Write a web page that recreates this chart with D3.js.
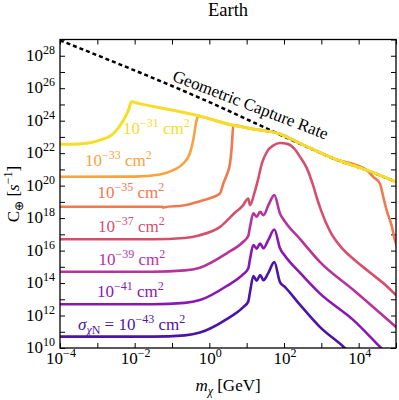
<!DOCTYPE html>
<html>
<head>
<meta charset="utf-8">
<script src="https://cdn.jsdelivr.net/npm/d3@7"></script>
<style>
  body { margin: 0; background: #fff; }
  svg { display: block; font-family: "Liberation Serif", "Times New Roman", serif; }
</style>
</head>
<body>
<svg id="chart" width="399" height="400"></svg>
<script>
// dark matter mass [GeV] vs capture rate [1/s]
const geometric = [[1e-4, 8.9e28], [0.56, 2.5e25], [500, 2.0e22], [2100, 4.7e21], [1.66e4, 8.9e20], [1e5, 1.7e20]];

const sigma31 = [[1e-4, 3.5e22], [3.2e-4, 3.7e22], [1.17e-3, 6.3e22], [2.7e-3, 1.62e23], [5.0e-3, 1.07e24],
  [6.8e-3, 4.5e24], [8.3e-3, 1.45e25], [0.0126, 1.17e25], [0.56, 1.9e24], [4.4, 5.2e23], [12.3, 3.3e23],
  [78, 1.5e23], [270, 4.0e22], [2100, 4.7e21], [1.66e4, 8.9e20], [1e5, 1.7e20]];

const sigma33 = [[1e-4, 3.5e20], [1e-2, 3.6e20], [0.048, 4.9e20], [0.108, 8.9e20], [0.2, 2.3e21], [0.30, 9.5e21],
  [0.37, 6.3e22], [0.457, 1.07e24], [0.507, 2.0e24], [0.56, 1.9e24], [4.4, 5.2e23], [12.3, 3.3e23],
  [78, 1.5e23], [270, 4.0e22], [2100, 4.7e21], [1.66e4, 8.9e20], [1e5, 1.7e20]];

const sigma35 = [[1e-4, 5.0e18], [0.03, 5.0e18], [0.055, 5.0e18], [0.058, 4.4e18], [0.064, 4.7e18], [0.2, 6.0e18],
  [0.56, 1.1e19], [1.28, 2.0e19], [1.93, 3.3e19], [2.37, 1.35e20], [2.92, 4.5e20], [3.58, 2.3e21],
  [4.0, 2.5e22], [4.37, 5.2e23], [12.3, 3.3e23], [78, 1.5e23], [270, 4.0e22], [2100, 4.7e21],
  [1.66e4, 8.9e20], [2.45e4, 3.5e20], [3.7e4, 1.35e20], [4.57e4, 2.0e19], [5.6e4, 3.1e18],
  [7.8e4, 2.9e17], [9.3e4, 4.5e16], [1.1e5, 1.5e16]];

const sigma37 = [[1e-4, 5.0e16], [0.03, 5.0e16], [0.22, 6.0e16], [0.56, 8.9e16], [1.95, 2.9e17], [4.9, 2.2e18],
  [7.9, 5.9e18], [11, 1.6e19], [12.3, 6.3e18], [15.8, 3.0e19], [20, 2.2e20], [25.7, 2.4e21], [35.5, 1.3e22],
  [51, 2.9e22], [78, 4.2e22], [129, 3.6e22], [186, 2.0e22], [270, 5.9e21], [407, 1.2e21], [600, 1.07e20],
  [776, 1.5e19], [977, 3.1e18], [1700, 1.6e17], [3160, 1.95e16], [7240, 3.0e15], [2.0e4, 4.5e14],
  [5.6e4, 6.6e13], [1e5, 1.8e13]];

const sigma39 = [[1e-4, 5.0e14], [0.03, 5.0e14], [0.22, 6.0e14], [0.56, 8.9e14], [2.92, 6.8e15], [8.1, 3.5e16],
  [11, 7.8e16], [12.3, 2.9e17], [15.1, 1.95e18], [18.6, 1.2e18], [22.9, 2.45e18], [28.2, 1.5e18],
  [38, 6.0e18], [55, 2.6e19], [78, 1.95e18], [107, 5.9e17], [270, 5.1e16], [910, 2.0e15],
  [7240, 3.7e13], [1e5, 1.95e11]];

const sigma41 = [[1e-4, 5.0e12], [0.03, 5.0e12], [0.22, 6.0e12], [0.56, 8.9e12], [2.92, 6.6e13], [8.1, 3.5e14],
  [11, 7.8e14], [12.3, 3.0e15], [15.1, 2.2e16], [18.6, 1.3e16], [22.9, 2.75e16], [28.2, 1.38e16],
  [38, 4.5e16], [55, 2.0e17], [78, 1.4e16], [107, 4.6e15], [270, 4.2e14], [910, 2.3e13],
  [7240, 5.2e11], [3.7e4, 1.2e10], [1e5, 1.2e9]];

const sigma43 = [[1e-4, 5.0e10], [0.03, 5.0e10], [0.22, 6.0e10], [0.56, 8.9e10], [2.92, 6.0e11], [8.1, 3.3e12],
  [11, 7.2e12], [12.3, 2.8e13], [15.1, 2.7e14], [18.6, 1.4e14], [22.9, 3.1e14], [28.2, 1.5e14],
  [38, 4.2e14], [55, 1.95e15], [78, 1.15e14], [107, 5.6e13], [270, 4.5e12], [910, 2.0e11],
  [3900, 1.2e10], [1e4, 1.5e9]];

const sigmaExps = ["−43", "−41", "−39", "−37", "−35", "−33", "−31"];
const xLabelExps = [-4, -2, 0, 2, 4];
const yLabelExps = [10, 12, 14, 16, 18, 20, 22, 24, 26, 28];

// drawing order: weakest cross section first, yellow ends on top
const series = [sigma43, sigma41, sigma39, sigma37, sigma35, sigma33, sigma31];
const colors = ["#4c14a6", "#8b17b3", "#b5349c", "#d4506f", "#ef7950", "#f8a33d", "#f5dd2a"];
const labelPos = [[78, 330], [97, 297], [98.5, 265], [98, 232], [97.5, 198], [85, 166], [123, 134]];

const svg = d3.select("#chart");
const pLeft = 60, pRight = 396, pTop = 39.5, pBottom = 348;

const x = d3.scaleLog().domain([1e-4, 1e5]).range([pLeft, pRight]);
const y = d3.scaleLog().domain([1e10, 1e29]).range([pBottom, pTop]);

const xDecades = d3.range(-4, 6).map(e => Math.pow(10, e));
const yDecades = d3.range(10, 30).map(e => Math.pow(10, e));

svg.append("defs").append("clipPath").attr("id", "plot")
  .append("rect").attr("x", pLeft).attr("y", pTop).attr("width", pRight - pLeft).attr("height", pBottom - pTop);

function ticks(axis, tx, ty) {
  const g = svg.append("g").attr("transform", "translate(" + tx + "," + ty + ")")
    .call(axis.tickSizeInner(-5).tickSizeOuter(0).tickFormat(""));
  g.select(".domain").remove();
  g.selectAll(".tick line").attr("stroke", "#000").attr("stroke-width", 1);
  return g;
}
ticks(d3.axisBottom(x).tickValues(xDecades), 0, pBottom);
ticks(d3.axisTop(x).tickValues(xDecades), 0, pTop);
ticks(d3.axisLeft(y).tickValues(yDecades), pLeft, 0);
ticks(d3.axisRight(y).tickValues(yDecades), pRight, 0);

function rich(text, parts) {
  parts.forEach(p => {
    const t = text.append("tspan").text(p.t);
    if (p.dy) t.attr("dy", p.dy);
    if (p.fs) t.attr("font-size", p.fs);
    if (p.it) t.attr("font-style", "italic");
  });
  return text;
}

// tick labels
xLabelExps.forEach(e => {
  const t = svg.append("text").attr("x", x(Math.pow(10, e)) + 1).attr("y", 364)
    .attr("text-anchor", "middle").attr("font-size", 17);
  rich(t, [{t: "10"}, {t: e < 0 ? "−" + (-e) : String(e), dy: -7, fs: 12}]);
});
yLabelExps.forEach(e => {
  const t = svg.append("text").attr("x", 55).attr("y", y(Math.pow(10, e)) + 5)
    .attr("text-anchor", "end").attr("font-size", 17);
  rich(t, [{t: "10"}, {t: String(e), dy: -7, fs: 12}]);
});

const line = d3.line()
  .curve(d3.curveMonotoneX)
  .x(d => x(d[0]))
  .y(d => y(d[1]));

const plot = svg.append("g").attr("clip-path", "url(#plot)");

series.forEach((s, i) => {
  if (i === series.length - 1) {
    plot.append("path")
      .attr("d", line(geometric))
      .attr("fill", "none")
      .attr("stroke", "#000")
      .attr("stroke-width", 2.5)
      .attr("stroke-dasharray", "4,3");
  }
  plot.append("path")
    .attr("d", line(s))
    .attr("fill", "none")
    .attr("stroke", colors[i])
    .attr("stroke-width", i === series.length - 1 ? 3 : 2.6)
    .attr("stroke-linejoin", "round")
    .attr("stroke-linecap", "round");
});

// curve labels
sigmaExps.forEach((e, i) => {
  const t = svg.append("text").attr("x", labelPos[i][0]).attr("y", labelPos[i][1])
    .attr("font-size", 17).attr("fill", colors[i]);
  const head = i === 0
    ? [{t: "σ", it: true}, {t: "χ", it: true, dy: 4, fs: 12}, {t: "N", fs: 12}, {t: " = 10", dy: -4, fs: 17}]
    : [{t: "10"}];
  rich(t, head.concat([{t: e, dy: -7, fs: 12}, {t: " cm", dy: 7, fs: 17}, {t: "2", dy: -7, fs: 12}]));
});

svg.append("text")
  .attr("transform", "translate(248.5,110) rotate(21)")
  .attr("text-anchor", "middle")
  .attr("font-size", 17)
  .text("Geometric Capture Rate");

// frame
svg.append("rect")
  .attr("x", pLeft).attr("y", pTop).attr("width", pRight - pLeft).attr("height", pBottom - pTop)
  .attr("fill", "none").attr("stroke", "#000").attr("stroke-width", 1.3);

svg.append("text").attr("x", (pLeft + pRight) / 2).attr("y", 16)
  .attr("text-anchor", "middle").attr("font-size", 18.5).text("Earth");

rich(svg.append("text").attr("x", (pLeft + pRight) / 2).attr("y", 391)
  .attr("text-anchor", "middle").attr("font-size", 17),
  [{t: "m", it: true}, {t: "χ", it: true, dy: 4, fs: 12}, {t: " [GeV]", dy: -4, fs: 17}]);

rich(svg.append("text").attr("transform", "translate(19,194) rotate(-90)")
  .attr("text-anchor", "middle").attr("font-size", 17),
  [{t: "C"}, {t: "⊕", dy: 4, fs: 12}, {t: " [", dy: -4, fs: 17}, {t: "s", it: true},
   {t: "−1", dy: -7, fs: 12}, {t: "]", dy: 7, fs: 17}]);
</script>
</body>
</html>
